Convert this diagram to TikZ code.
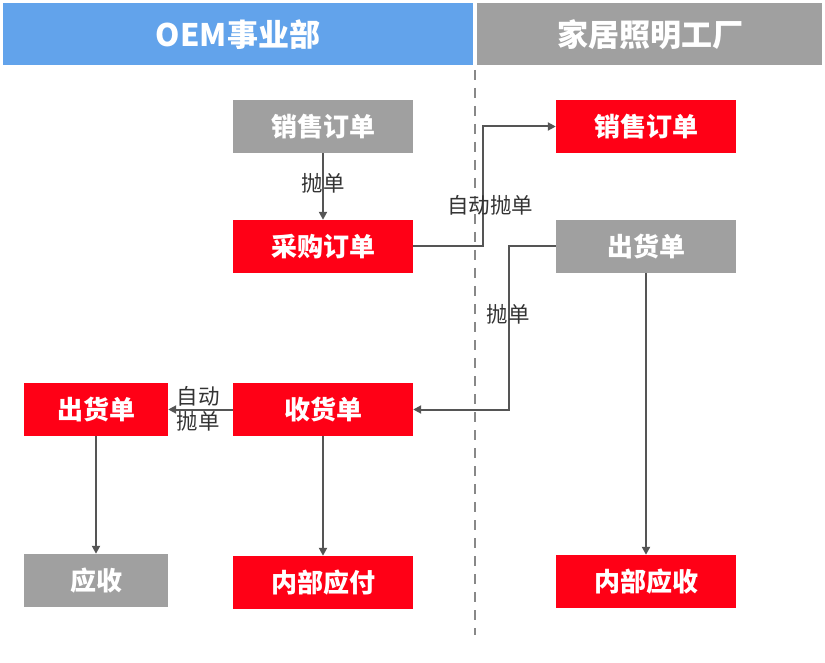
\documentclass[tikz,border=0pt]{standalone}
\usepackage{fontspec}
\setmainfont{Noto Sans CJK SC}
\usetikzlibrary{arrows.meta}
\definecolor{hdblue}{HTML}{62A3EB}
\definecolor{boxgray}{HTML}{A0A0A0}
\definecolor{boxred}{HTML}{FF0016}
\definecolor{linegray}{HTML}{555555}

\begin{document}
\begin{tikzpicture}[x=1pt, y=-1pt,
	redbox/.style={fill=boxred, text=white, font=\fontsize{26}{30}\selectfont\bfseries, minimum width=180pt, minimum height=53pt, inner sep=0pt},
	graybox/.style={redbox, fill=boxgray},
	smallbox/.style={minimum width=144pt},
	headtext/.style={text=white, font=\fontsize{31}{35}\selectfont\bfseries},
	arr/.style={draw=linegray, line width=2pt, -{Triangle[length=8pt, width=8pt]}},
	lbl/.style={text=black!80, font=\fontsize{21.5}{25}\selectfont, inner sep=0pt}]
					\useasboundingbox (0,0) rectangle (825,663);
					
					\fill[hdblue] (3,3) rectangle (473,65);
					\fill[boxgray] (477,3) rectangle (822,65);
					\node[headtext] (oem) at (238,35) {OEM事业部};
					\node[headtext] (jjzm) at (650,35) {家居照明工厂};
					\draw[boxgray!85!black, line width=2pt, dash pattern=on 10pt off 8pt] (475,70) -- (475,635);
					
					\node[graybox] (xsA) at (323,126.5) {销售订单};
					\node[redbox] (cgA) at (323,246.5) {采购订单};
					\node[redbox] (shA) at (323,409.5) {收货单};
					\node[redbox] (yfA) at (323,582.5) {内部应付};
					\node[redbox, smallbox] (chA) at (96,409.5) {出货单};
					\node[graybox, smallbox] (ysA) at (96,580.5) {应收};
					
					\node[redbox] (xsB) at (646,126.5) {销售订单};
					\node[graybox] (chB) at (646,246.5) {出货单};
					\node[redbox] (ysB) at (646,581.5) {内部应收};
					
					\draw[arr] (xsA) -- (cgA);
					\node[lbl] at (323,183) {抛单};
					\draw[arr] (cgA.east) -- ++(70,0) |- (xsB.west);
					\node[lbl] at (490,205) {自动抛单};
					\draw[arr] (chB.west) -- ++(-47,0) |- (shA.east);
					\node[lbl] at (508,314) {抛单};
					\draw[arr] (shA) -- (chA);
					\node[lbl, align=center] at (198,409) {自动\\抛单};
					\draw[arr] (chA) -- (ysA);
					\draw[arr] (shA) -- (yfA);
					\draw[arr] (chB) -- (ysB);
				\end{tikzpicture}
\end{document}
